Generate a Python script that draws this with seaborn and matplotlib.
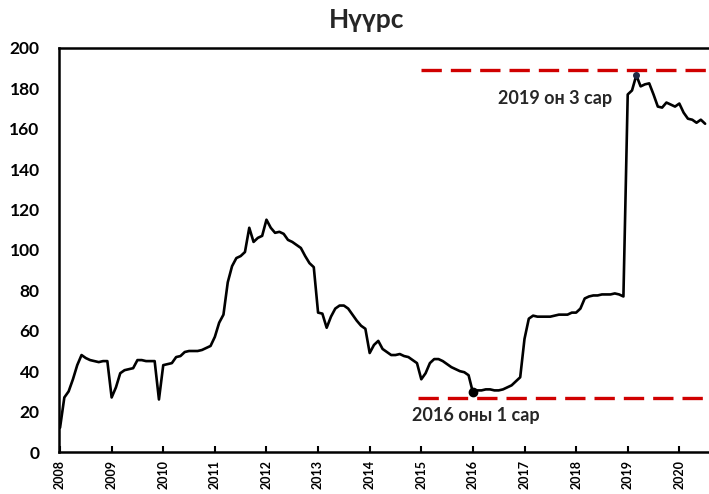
import numpy as np
import pandas as pd
import matplotlib
matplotlib.use("Agg")
import matplotlib.pyplot as plt
import seaborn as sns

# Monthly coal values, Jan 2008 .. Jul 2020
v2008 = [12, 27, 30, 36, 43, 48, 46.5, 45.5, 45, 44.5, 45, 45]
v2009 = [27, 32, 39, 40.5, 41, 41.5, 45.5, 45.5, 45, 45, 45, 26]
v2010 = [43, 43.5, 44, 47, 47.5, 49.5, 50, 50, 50, 50.5, 51.5, 52.5]
v2011 = [57, 64, 68, 84, 92, 96, 97, 99, 111, 104, 106, 107]
v2012 = [115, 111, 108.5, 109, 108, 105, 104, 102.5, 101, 97, 93.5, 91.5]
v2013 = [69, 68.5, 61.5, 67, 71, 72.5, 72.5, 71, 68, 65, 62.5, 61]
v2014 = [49, 53, 55, 51, 49.5, 48, 48, 48.5, 47.5, 47, 45.5, 44]
v2015 = [36, 39, 44, 46, 46, 45, 43.5, 42, 41, 40, 39.5, 38]
v2016 = [29.5, 30.5, 30.5, 31, 31, 30.5, 30.5, 31, 32, 33, 35, 37]
v2017 = [56, 66, 67.5, 67, 67, 67, 67, 67.5, 68, 68, 68, 69]
v2018 = [69, 71, 76, 77, 77.5, 77.5, 78, 78, 78, 78.5, 78, 77]
v2019 = [177, 179, 186.5, 181, 182, 182.5, 177, 171, 170.5, 173, 172, 171]
v2020 = [172.5, 168, 165, 164.5, 163, 164.5, 162.5]

values = v2008 + v2009 + v2010 + v2011 + v2012 + v2013 + v2014 + v2015 + v2016 + v2017 + v2018 + v2019 + v2020
years = [2008 + i / 12 for i in range(len(values))]

year_ticks = list(range(2008, 2021))
min_label = "2016 оны 1 сар"
max_label = "2019 он 3 сар"
min_year, min_month = 2016, 1
max_year, max_month = 2019, 3
ref_high = 189
ref_low = 26.5

df = pd.DataFrame({"year": years, "value": values})

sns.set_style("white")
plt.rcParams["font.family"] = ["Lato", "DejaVu Sans"]
plt.rcParams["font.weight"] = "bold"

fig = plt.figure(figsize=(7.09, 4.94), dpi=100)
ax = fig.add_axes([59 / 709, 1 - 452 / 494, 1 - 59 / 709, (452 - 48) / 494])

sns.lineplot(data=df, x="year", y="value", ax=ax, color="black", linewidth=1.9)

# reference lines
red = "#D00000"
ax.plot([2015.0, 2020.6], [ref_high, ref_high], color=red, linewidth=2.4,
        dashes=(6.1, 2.7), solid_capstyle="butt")
ax.plot([2014.93, 2020.45], [ref_low, ref_low], color=red, linewidth=2.4,
        dashes=(6.1, 2.7), solid_capstyle="butt")

# markers
mi = (min_year - 2008) * 12 + min_month - 1
ma = (max_year - 2008) * 12 + max_month - 1
ax.plot(years[mi], values[mi], "o", color="black", markersize=6)
ax.plot(years[ma], values[ma], "o", color="#1F2A44", markersize=4)

ax.text(2017.59, 175, max_label, fontsize=13, fontweight="bold", ha="center", va="center")
ax.text(2016.05, 18.3, min_label, fontsize=13, fontweight="bold", ha="center", va="center")

ax.set_xlim(2007.98, 2020.575)
ax.set_ylim(0, 200)
ax.set_yticks(range(0, 201, 20))
ax.set_xticks(year_ticks)
ax.set_xticklabels([str(y) for y in year_ticks], rotation=90, fontsize=9, fontweight="bold")
for lab in ax.get_yticklabels():
    lab.set_fontsize(12.5)
    lab.set_fontweight("bold")
ax.tick_params(axis="x", direction="in", length=4, width=1.5, bottom=True, pad=6, colors="black")
ax.tick_params(axis="y", length=0, pad=14, colors="black")
ax.set_xlabel("")
ax.set_ylabel("")
for s in ["left", "bottom", "top"]:
    ax.spines[s].set_color("black")
    ax.spines[s].set_linewidth(1.8)
ax.spines["right"].set_visible(False)

fig.text(367 / 709, 1 - 20 / 494, "Нүүрс", fontsize=19, fontweight="bold", ha="center", va="center")

fig.savefig("out.png", dpi=100)
